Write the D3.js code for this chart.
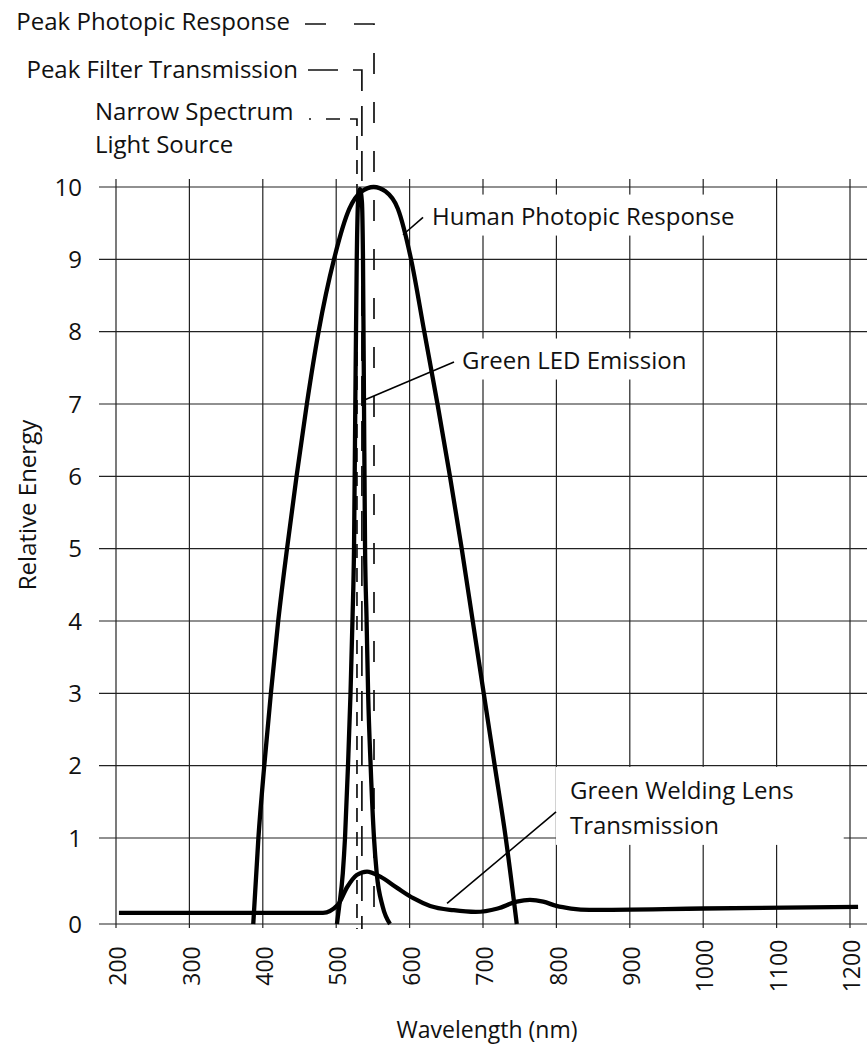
<!DOCTYPE html>
<html>
<head>
<meta charset="utf-8">
<script src="https://cdn.jsdelivr.net/npm/d3@7"></script>
<style>
body{margin:0;background:#fff;}
svg text{font-family:"Open Sans",sans-serif;fill:#111;}
</style>
</head>
<body>
<svg id="chart" width="867" height="1047"></svg>
<script>

//DONNEES---------------------------------------------------
let wavelengthTicks = [200,300,400,500,600,700,800,900,1000,1100,1200];
let energyTicks = [0,1,2,3,4,5,6,7,8,9,10];

// [longueur d'onde nm, énergie relative]
let photopic = [[387,0.0],[394,1.0],[402,2.0],[411,3.0],[421,4.0],[433,5.0],[446,6.0],[460,7.0],
  [476,8.0],[497,9.0],[518,9.7],[535,9.94],[551,10.0],[567,9.94],[584,9.7],[602,9.0],[620,8.0],
  [638,7.0],[655,6.0],[671,5.0],[686,4.0],[701,3.0],[716,2.0],[731,1.0],[746,0.0]];

let ledEmission = [[501,0.0],[504,0.2],[509,0.59],[512,1.0],[516,1.98],[519.5,3.0],[522.3,4.06],[524.3,5.02],
  [526,6.96],[528,9.0],[529.8,9.8],[532.4,9.97],[535,9.8],[536.5,9.0],[537.9,6.96],[539.3,5.02],
  [541.3,4.06],[543.5,3.0],[547,1.98],[551.5,1.0],[555.2,0.59],[563.4,0.2],[573.3,0.0]];

let weldingLens = [[204,0.13],[482,0.13],[502,0.22],[515,0.43],[528,0.57],[542,0.61],[560,0.55],[583,0.42],
  [605,0.3],[628,0.21],[660,0.16],[690,0.14],[720,0.18],[746,0.26],[764,0.28],[782,0.26],[800,0.21],
  [820,0.18],[845,0.165],[1000,0.18],[1211,0.2]];

// raies verticales (nm)
let peakNames = ["Peak Photopic Response","Peak Filter Transmission","Narrow Spectrum"];
let peakNm = [551.5,535,528.3];

//CHART---------------------------------------------------
let svg = d3.select("#chart");

let x = d3.scaleLinear().domain([200,1200]).range([116,850]);
let y = d3.scaleLinear().domain([0,1,10]).range([924,838,187]);

let gGrid = svg.append("g").attr("stroke","#222").attr("stroke-width",1.2);

//grille verticale
gGrid.selectAll(".vline")
  .data(wavelengthTicks)
  .enter().append("line")
    .attr("x1", d => x(d)).attr("x2", d => x(d))
    .attr("y1", y(10) - 8).attr("y2", y(0) + 4);

//grille horizontale
gGrid.selectAll(".hline")
  .data(energyTicks)
  .enter().append("line")
    .attr("x1", 99).attr("x2", 867)
    .attr("y1", d => y(d)).attr("y2", d => y(d));

//axe y
svg.append("g").selectAll("text")
  .data(energyTicks)
  .enter().append("text")
    .attr("x", 82)
    .attr("y", d => y(d))
    .attr("dy", "0.36em")
    .attr("text-anchor","end")
    .attr("font-size", 24)
    .text(d => d);

//axe x
svg.append("g").selectAll("text")
  .data(wavelengthTicks)
  .enter().append("text")
    .attr("transform", d => "translate(" + (x(d) + 2) + ",966) rotate(-90)")
    .attr("dy", "0.36em")
    .attr("text-anchor","middle")
    .attr("font-size", 23)
    .text(d => d);

svg.append("text")
  .attr("x", 487).attr("y", 1038)
  .attr("text-anchor","middle")
  .attr("font-size", 23)
  .text("Wavelength (nm)");

svg.append("text")
  .attr("transform","translate(27,505) rotate(-90)")
  .attr("dy","0.36em")
  .attr("text-anchor","middle")
  .attr("font-size", 24)
  .text("Relative Energy");

//raies en pointillés + légende du haut
let peakRows = [24, 70, 119];
let peakStart = [305, 308, 326];
let peakDash = ["21,28", "30,15", "14,10"];

peakNm.forEach(function(nm, i){
  svg.append("path")
    .attr("d", "M" + peakStart[i] + "," + peakRows[i] + "H" + x(nm) + "V" + (y(0) + 5))
    .attr("fill","none")
    .attr("stroke","#111")
    .attr("stroke-width",1.7)
    .attr("stroke-dasharray", peakDash[i]);
});
svg.append("line").attr("x1",309).attr("x2",311).attr("y1",119).attr("y2",119)
  .attr("stroke","#111").attr("stroke-width",1.7);

svg.append("text").attr("x",290).attr("y",30).attr("text-anchor","end")
  .attr("font-size",24).text(peakNames[0]);
svg.append("text").attr("x",298).attr("y",78).attr("text-anchor","end")
  .attr("font-size",24).text(peakNames[1]);
svg.append("text").attr("x",95).attr("y",120)
  .attr("font-size",24).text(peakNames[2]);
svg.append("text").attr("x",95).attr("y",153)
  .attr("font-size",24).text("Light Source");

//annotations (pad : gauche, haut, droite, bas)
let notes = [
  {lines:["Human Photopic Response"], nm:630.5, val:9.6, from:[591,9.34], to:[618.3,9.58], pad:[8,4,8,4]},
  {lines:["Green LED Emission"], nm:671.4, val:7.61, from:[539.2,7.06], to:[660.5,7.58], pad:[8,4,8,4]},
  {lines:["Green Welding Lens","Transmission"], nm:818.5, val:1.66, from:[651,0.24], to:[799.5,1.36], pad:[14,6,50,4]}
];

notes.forEach(function(n){
  let g = svg.append("g");
  let rect = g.append("rect").attr("fill","#fff");
  let t = g.append("text")
    .attr("x", x(n.nm))
    .attr("y", y(n.val))
    .attr("font-size",24);
  n.lines.forEach(function(l, i){
    t.append("tspan").attr("x", x(n.nm)).attr("dy", i === 0 ? "0.36em" : 35).text(l);
  });
  let b = t.node().getBBox();
  rect.attr("x", b.x - n.pad[0]).attr("y", b.y - n.pad[1])
    .attr("width", b.width + n.pad[0] + n.pad[2])
    .attr("height", b.height + n.pad[1] + n.pad[3]);
});

//courbes
let line = d3.line()
  .x(d => x(d[0]))
  .y(d => y(d[1]))
  .curve(d3.curveMonotoneX);

[weldingLens, photopic, ledEmission].forEach(function(s){
  svg.append("path")
    .datum(s)
    .attr("d", line)
    .attr("fill","none")
    .attr("stroke","#000")
    .attr("stroke-width",4.3)
    .attr("stroke-linejoin","round");
});

//lignes de rappel
svg.append("g").selectAll("line")
  .data(notes)
  .enter().append("line")
    .attr("x1", d => x(d.from[0])).attr("y1", d => y(d.from[1]))
    .attr("x2", d => x(d.to[0])).attr("y2", d => y(d.to[1]))
    .attr("stroke","#000")
    .attr("stroke-width",1.6);

</script>
</body>
</html>
